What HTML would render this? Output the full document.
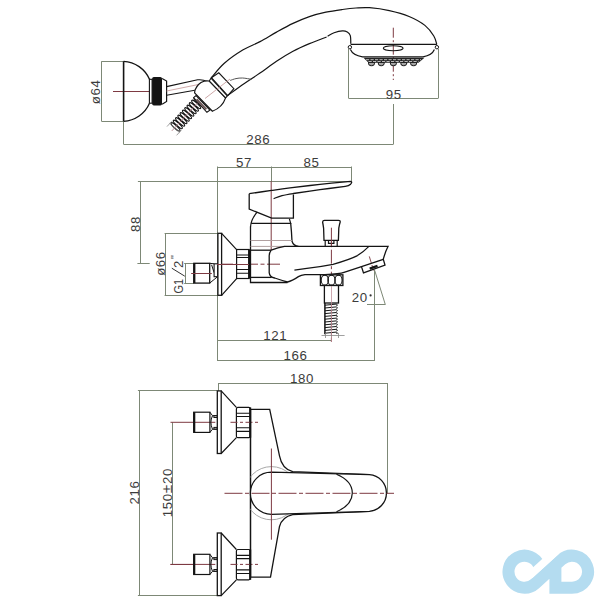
<!DOCTYPE html>
<html><head><meta charset="utf-8"><style>
html,body{margin:0;padding:0;background:#fff;}
svg{display:block;}
text{font-family:"Liberation Sans",sans-serif;fill:#3c3c3c;letter-spacing:0.6px;}
</style></head><body>
<svg width="607" height="607" viewBox="0 0 607 607">
<rect width="607" height="607" fill="#fff"/>
<line x1="101.5" y1="61.5" x2="123.6" y2="61.5" stroke="#7d8876" stroke-width="1" />
<line x1="101.5" y1="121.5" x2="123.6" y2="121.5" stroke="#7d8876" stroke-width="1" />
<line x1="101.5" y1="61.3" x2="101.5" y2="121.3" stroke="#7d8876" stroke-width="1" />
<text transform="translate(100.4,91.8) rotate(-90)" text-anchor="middle" font-size="13.3" >ø64</text>
<line x1="123.5" y1="121.3" x2="123.5" y2="144.4" stroke="#7d8876" stroke-width="1" />
<line x1="123.6" y1="144.5" x2="393.3" y2="144.5" stroke="#7d8876" stroke-width="1" />
<line x1="393.5" y1="104" x2="393.5" y2="144.4" stroke="#7d8876" stroke-width="1" />
<text x="258.2" y="143.9" text-anchor="middle" font-size="13.3" >286</text>
<line x1="348.5" y1="49" x2="348.5" y2="98.3" stroke="#7d8876" stroke-width="1" />
<line x1="438.5" y1="49" x2="438.5" y2="98.3" stroke="#7d8876" stroke-width="1" />
<line x1="348.6" y1="98.5" x2="438.3" y2="98.5" stroke="#7d8876" stroke-width="1" />
<text x="393.7" y="98.5" text-anchor="middle" font-size="13.3" >95</text>
<line x1="113" y1="91.5" x2="150" y2="91.5" stroke="#7e3a42" stroke-width="1" />
<line x1="393.3" y1="27.7" x2="393.3" y2="80" stroke="#7e3a42" stroke-width="1" stroke-dasharray="10,2.5,2,2.5"/>
<path d="M123.6,61.3 V121.3" stroke="#141414" stroke-width="1.6" fill="none" />
<path d="M123.6,61.3 A30,30 0 0 1 149.5,79.3 M149.5,103.2 A30,30 0 0 1 123.6,121.3" stroke="#141414" stroke-width="1.3" fill="none" />
<rect x="149.4" y="79.3" width="2.7" height="23.9" fill="#fff" stroke="#141414" stroke-width="1.1"/>
<rect x="152.1" y="76.9" width="10" height="28.7" rx="1.8" fill="#141414"/>
<path d="M162.1,78.6 L166.6,81.1 V101.5 L162.1,104.2" stroke="#141414" stroke-width="1.2" fill="#fff" />
<path d="M166.6,86.6 L197.6,79.8 Q203,79.2 207,81.5" stroke="#141414" stroke-width="1.1" fill="none" />
<path d="M166.6,95.2 L194.8,90.3" stroke="#141414" stroke-width="1.1" fill="none" />
<line x1="166.6" y1="91" x2="200" y2="84.2" stroke="#c9a0a0" stroke-width="0.9" />
<ellipse cx="198.48" cy="101.9" rx="6.0" ry="1.45" transform="rotate(-137.41 198.48 101.9)" fill="#fff" stroke="#141414" stroke-width="1.15"/>
<ellipse cx="196.19" cy="104.4" rx="6.0" ry="1.45" transform="rotate(-137.41 196.19 104.4)" fill="#fff" stroke="#141414" stroke-width="1.15"/>
<ellipse cx="193.89" cy="106.9" rx="6.0" ry="1.45" transform="rotate(-137.41 193.89 106.9)" fill="#fff" stroke="#141414" stroke-width="1.15"/>
<ellipse cx="191.59" cy="109.4" rx="6.0" ry="1.45" transform="rotate(-137.41 191.59 109.4)" fill="#fff" stroke="#141414" stroke-width="1.15"/>
<ellipse cx="189.3" cy="111.9" rx="6.0" ry="1.45" transform="rotate(-137.41 189.3 111.9)" fill="#fff" stroke="#141414" stroke-width="1.15"/>
<ellipse cx="187" cy="114.4" rx="6.0" ry="1.45" transform="rotate(-137.41 187 114.4)" fill="#fff" stroke="#141414" stroke-width="1.15"/>
<ellipse cx="184.7" cy="116.9" rx="6.0" ry="1.45" transform="rotate(-137.41 184.7 116.9)" fill="#fff" stroke="#141414" stroke-width="1.15"/>
<ellipse cx="182.41" cy="119.4" rx="6.0" ry="1.45" transform="rotate(-137.41 182.41 119.4)" fill="#fff" stroke="#141414" stroke-width="1.15"/>
<ellipse cx="180.11" cy="121.9" rx="6.0" ry="1.45" transform="rotate(-137.41 180.11 121.9)" fill="#fff" stroke="#141414" stroke-width="1.15"/>
<ellipse cx="177.81" cy="124.4" rx="6.0" ry="1.45" transform="rotate(-137.41 177.81 124.4)" fill="#fff" stroke="#141414" stroke-width="1.15"/>
<ellipse cx="175.52" cy="126.9" rx="6.0" ry="1.45" transform="rotate(-137.41 175.52 126.9)" fill="#fff" stroke="#141414" stroke-width="1.15"/>
<line x1="199.5" y1="100.8" x2="171.79" y2="130.95" stroke="#b07a80" stroke-width="0.8" />
<line x1="181.32" y1="130.19" x2="176.58" y2="135.34" stroke="#888" stroke-width="0.8" />
<line x1="171.74" y1="121.39" x2="167.01" y2="126.55" stroke="#888" stroke-width="0.8" />
<line x1="180.02" y1="133.08" x2="168.98" y2="122.92" stroke="#999" stroke-width="0.7" />
<path d="M193.6,97.6 L196.1,95.6 L209.9,110.1 L206.9,112.3 Z" stroke="#141414" stroke-width="1.1" fill="#fff" />
<path d="M196.6,99.3 L206.3,109.4" stroke="#6a5555" stroke-width="2.0" fill="none" />
<path d="M209.3,81 C208.42,81.05 205.8,80.72 204,81.3 C202.2,81.88 199.95,83.13 198.5,84.5 C197.05,85.87 195.95,88.12 195.3,89.5 C194.65,90.88 194.72,92.25 194.6,92.8 L212.4,111.2  C218.5,109 223.5,104 225.6,97.9 Z" stroke="#141414" stroke-width="1.2" fill="#fff" />
<path d="M209.2,81.0 L211.4,77.7 L227.7,95.5 L225.6,97.9 Z" stroke="#141414" stroke-width="1.1" fill="#fff" />
<path d="M211.4,77.7 L227.7,95.5" stroke="#141414" stroke-width="2.2" fill="none" />
<path d="M211.4,77.7 L218.8,72.8 L233.9,88.7 L227.7,95.5 Z" stroke="#141414" stroke-width="1.1" fill="#fff" />
<line x1="205" y1="98.5" x2="230" y2="79" stroke="#c09090" stroke-width="0.8" />
<path d="M211.4,77.7 C213.55,75.3 219.08,67.9 224.3,63.3 C229.52,58.7 236.75,53.72 242.7,50.1 C248.65,46.48 254.37,44.6 260,41.6 C265.63,38.6 271,35.13 276.5,32.1 C282,29.07 287.52,25.98 293,23.4 C298.48,20.82 303.92,18.47 309.4,16.6 C314.88,14.73 320.4,13.38 325.9,12.2 C331.4,11.02 337.38,10.2 342.4,9.5 C347.42,8.8 351.48,8.3 356,8 C360.52,7.7 363.95,7.27 369.5,7.7 C375.05,8.13 382.7,9.13 389.3,10.6 C395.9,12.07 403.17,14.03 409.1,16.5 C415.03,18.97 420.78,22.15 424.9,25.4 C429.02,28.65 431.82,32.82 433.8,36 C435.78,39.18 436.3,43.08 436.8,44.5" stroke="#141414" stroke-width="1.2" fill="none" />
<path d="M227.7,95.5 C230.42,93.55 238.62,87.53 244,83.8 C249.38,80.07 254.58,76.87 260,73.1 C265.42,69.33 271,64.85 276.5,61.2 C282,57.55 287.52,54.13 293,51.2 C298.48,48.27 303.8,45.97 309.4,43.6 C315,41.23 323.73,38.1 326.6,37" stroke="#141414" stroke-width="1.2" fill="none" />
<path d="M327.6,36.2 C328.68,35.63 331.63,33.68 334.1,32.8 C336.57,31.92 340.2,31.03 342.4,30.9 C344.6,30.77 345.98,31.22 347.3,32 C348.62,32.78 349.72,33.63 350.3,35.6 C350.88,37.57 350.72,42.43 350.8,43.8" stroke="#141414" stroke-width="1.2" fill="none" />
<path d="M230.2,80.4 C231.17,80.1 233.93,79 236,78.6 C238.07,78.2 240.02,77.88 242.6,78 C245.18,78.12 250.02,79.08 251.5,79.3" stroke="#555" stroke-width="1.0" fill="none" />
<path d="M350.6,44.4 H436.8" stroke="#141414" stroke-width="1.3" fill="none" />
<path d="M350.4,49.6 Q353,55.5 362.5,56.8 H423 Q432,55.5 434.4,49.6" stroke="#141414" stroke-width="1.2" fill="none" />
<circle cx="349.9" cy="47.2" r="1.7" fill="#fff" stroke="#141414" stroke-width="1"/>
<circle cx="436.9" cy="47.2" r="1.7" fill="#fff" stroke="#141414" stroke-width="1"/>
<ellipse cx="393.2" cy="48.2" rx="9.9" ry="2.5" fill="none" stroke="#141414" stroke-width="1.1"/>
<path d="M363.5,57.8 H424.5 L418.5,62.8 H368.5 Z" fill="#222"/>
<path d="M366,59.7 H421 M368.5,61.5 H418.5" stroke="#fff" stroke-width="0.7" stroke-dasharray="3.2,1.3"/>
<path d="M368.5,62.6 A3,3.2 0 0 0 374.5,62.6 Z" fill="#fff" stroke="#222" stroke-width="1.1"/>
<line x1="369.9" y1="64.2" x2="373.1" y2="64.2" stroke="#222" stroke-width="0.6"/>
<path d="M378.3,62.6 A3,3.2 0 0 0 384.3,62.6 Z" fill="#fff" stroke="#222" stroke-width="1.1"/>
<line x1="379.7" y1="64.2" x2="382.90000000000003" y2="64.2" stroke="#222" stroke-width="0.6"/>
<path d="M390.4,62.6 A3,3.2 0 0 0 396.4,62.6 Z" fill="#fff" stroke="#222" stroke-width="1.1"/>
<line x1="391.79999999999995" y1="64.2" x2="395.0" y2="64.2" stroke="#222" stroke-width="0.6"/>
<path d="M400.8,62.6 A3,3.2 0 0 0 406.8,62.6 Z" fill="#fff" stroke="#222" stroke-width="1.1"/>
<line x1="402.2" y1="64.2" x2="405.40000000000003" y2="64.2" stroke="#222" stroke-width="0.6"/>
<path d="M410.6,62.6 A3,3.2 0 0 0 416.6,62.6 Z" fill="#fff" stroke="#222" stroke-width="1.1"/>
<line x1="412.0" y1="64.2" x2="415.20000000000005" y2="64.2" stroke="#222" stroke-width="0.6"/>
<line x1="217.5" y1="166.5" x2="217.5" y2="361" stroke="#7d8876" stroke-width="1" />
<line x1="217.6" y1="167.5" x2="351.1" y2="167.5" stroke="#7d8876" stroke-width="1" />
<line x1="271.5" y1="166.5" x2="271.5" y2="181.2" stroke="#7d8876" stroke-width="1" />
<line x1="351.5" y1="166.5" x2="351.5" y2="181.2" stroke="#7d8876" stroke-width="1" />
<text x="243.9" y="167.1" text-anchor="middle" font-size="13.3" >57</text>
<text x="311.4" y="167.1" text-anchor="middle" font-size="13.3" >85</text>
<line x1="137.9" y1="181.5" x2="351.1" y2="181.5" stroke="#7d8876" stroke-width="1" />
<line x1="140.5" y1="181.2" x2="140.5" y2="263.6" stroke="#7d8876" stroke-width="1" />
<line x1="137.4" y1="263.5" x2="149.7" y2="263.5" stroke="#7d8876" stroke-width="1" />
<text transform="translate(139.9,223.9) rotate(-90)" text-anchor="middle" font-size="13.3" >88</text>
<line x1="164.6" y1="233.5" x2="218" y2="233.5" stroke="#7d8876" stroke-width="1" />
<line x1="164.6" y1="295.5" x2="218" y2="295.5" stroke="#7d8876" stroke-width="1" />
<line x1="165.5" y1="233.4" x2="165.5" y2="295.4" stroke="#7d8876" stroke-width="1" />
<text transform="translate(165.3,263.5) rotate(-90)" text-anchor="middle" font-size="13.3" >ø66</text>
<line x1="184.2" y1="263.5" x2="193.8" y2="263.5" stroke="#7d8876" stroke-width="1" />
<line x1="184.2" y1="283.5" x2="193.8" y2="283.5" stroke="#7d8876" stroke-width="1" />
<line x1="185.5" y1="263.4" x2="185.5" y2="283.2" stroke="#7d8876" stroke-width="1" />
<text transform="translate(183.4,293.4) rotate(-90)" text-anchor="start" font-size="13.3" style="letter-spacing:0" textLength="14.6" lengthAdjust="spacingAndGlyphs">G1</text>
<line x1="184.8" y1="276.2" x2="171.8" y2="268.2" stroke="#333" stroke-width="1.0" />
<text transform="translate(182.6,268) rotate(-90)" text-anchor="start" font-size="13.3" >2</text>
<text transform="translate(178.6,258.9) rotate(-90)" text-anchor="start" font-size="11" >"</text>
<line x1="218" y1="340.5" x2="331.6" y2="340.5" stroke="#7d8876" stroke-width="1" />
<line x1="331.5" y1="334" x2="331.5" y2="341.5" stroke="#7d8876" stroke-width="1" />
<text x="275.3" y="340" text-anchor="middle" font-size="13.3" >121</text>
<line x1="218" y1="360.5" x2="374.4" y2="360.5" stroke="#7d8876" stroke-width="1" />
<line x1="374.5" y1="269.6" x2="374.5" y2="361" stroke="#7d8876" stroke-width="1" />
<text x="295.5" y="359.9" text-anchor="middle" font-size="13.3" >166</text>
<line x1="374.7" y1="270.4" x2="385.2" y2="304.2" stroke="#7d8876" stroke-width="1" />
<line x1="367" y1="304.5" x2="385.6" y2="304.5" stroke="#7d8876" stroke-width="1" />
<text x="351.8" y="302.2" text-anchor="start" font-size="13.3" >20</text>
<circle cx="370.6" cy="295.4" r="1.1" fill="#333"/>
<line x1="271.2" y1="181.2" x2="271.2" y2="250.2" stroke="#7e3a42" stroke-width="1"/>
<line x1="217" y1="264.2" x2="280" y2="264.2" stroke="#7e3a42" stroke-width="1" stroke-dasharray="16,2.5,4,2.5"/>
<line x1="191.4" y1="273.5" x2="211.6" y2="273.5" stroke="#7e3a42" stroke-width="1" />
<line x1="331.4" y1="227.7" x2="331.4" y2="342" stroke="#7e3a42" stroke-width="1" stroke-dasharray="14,2.5,3,2.5"/>
<line x1="369.3" y1="256.4" x2="373.6" y2="270.5" stroke="#7e3a42" stroke-width="0.9" stroke-dasharray="7,2,2,2"/>
<path d="M209.7,263.3 L214.1,263.8 M209.7,283.1 L214.1,279.5 L217.6,276.7 M211.6,264.8 L214.1,272.7" stroke="#141414" stroke-width="1.0" fill="none" />
<rect x="214.1" y="263.8" width="3.5" height="12.9" fill="#fff" stroke="#141414" stroke-width="1.1"/>
<rect x="193.8" y="263.3" width="15.9" height="19.8" fill="none" stroke="#141414" stroke-width="1.3"/>
<path d="M194.4,263.3 V283.1" stroke="#141414" stroke-width="2.0" fill="none" />
<line x1="191.4" y1="273.5" x2="211.6" y2="273.5" stroke="#7e3a42" stroke-width="1" />
<rect x="217.9" y="233.3" width="3.7" height="62" fill="#fff" stroke="#141414" stroke-width="1.3"/>
<path d="M221.6,233.3 L236.6,249.6 M221.6,295.3 L236.6,278.6" stroke="#141414" stroke-width="1.2" fill="none" />
<rect x="236.6" y="249.5" width="12.5" height="29" fill="#fff" stroke="#141414" stroke-width="1.2"/>
<path d="M236.6,255 H249 M236.6,257.5 H249 M236.6,269.5 H249 M236.6,273.3 H249" stroke="#141414" stroke-width="1.1" fill="none" />
<path d="M249.1,249.5 V278.5" stroke="#141414" stroke-width="2.0" fill="none" />
<line x1="217" y1="264.5" x2="249" y2="264.5" stroke="#7e3a42" stroke-width="1" />
<path d="M249.2,193.7 C252.93,193.15 264.8,191.37 271.6,190.4 C278.4,189.43 281.93,188.9 290,187.9 C298.07,186.9 309.9,185.5 320,184.4 C330.1,183.3 345.5,181.82 350.6,181.3 Q352.8,181.6 350.6,184.2 Q348.8,186 345.3,186.4  C341.08,186.95 328.65,188.52 320,189.7 C311.35,190.88 299.73,192.52 293.4,193.5 C287.07,194.48 285.3,194.75 282,195.6 C278.7,196.45 275,198.1 273.6,198.6" stroke="#141414" stroke-width="1.3" fill="none" />
<path d="M249.2,193.7 V209.1 L271.6,218.1 H293.4 V194.4" stroke="#141414" stroke-width="1.3" fill="none" />
<path d="M257.1,212.2 Q251,219.5 250.5,227" stroke="#141414" stroke-width="1.2" fill="none" />
<path d="M251.2,223.4 H290.7 L289.4,218.8" stroke="#141414" stroke-width="1.2" fill="none" />
<path d="M250.5,226.5 V282.5 H287.5" stroke="#141414" stroke-width="1.3" fill="none" />
<path d="M290.7,223.4 Q291.6,232 292,241.2 Q293.5,246 298.5,246.3 H388.1 Q385.4,251.5 383.3,259.2" stroke="#141414" stroke-width="1.3" fill="none" />
<path d="M250.5,240.5 H292 M250.5,246.4 H284.5" stroke="#b0a0a0" stroke-width="1.0" fill="none" />
<path d="M250.5,250.2 H271.2" stroke="#141414" stroke-width="1.3" fill="none" />
<path d="M250.5,277.4 H271.7" stroke="#141414" stroke-width="1.3" fill="none" />
<path d="M271.2,250.2 Q269,253 269.2,257 V272.6 Q269.6,277 274.7,278 Q282,280.5 287.5,282 Q292,281 298.4,276.6 Q301,275 305,274.6 H325 Q340,273.8 344,272.4 L361.5,266.7" stroke="#141414" stroke-width="1.3" fill="none" />
<path d="M271.2,250.2 Q278,247.5 284.5,246.4 H298.5" stroke="#141414" stroke-width="1.3" fill="none" />
<path d="M294.4,270.1 L305,268.7 Q320,266.8 333,264.3 Q350,259.5 357.4,255.6 Q364,251.5 368.9,246.4" stroke="#141414" stroke-width="1.2" fill="none" />
<path d="M361.5,266.7 L383.3,259.3 L385,265.1 L363.5,272.9 Z" stroke="#141414" stroke-width="1.3" fill="none" />
<path d="M369.7,268.6 L377.5,265.9" stroke="#141414" stroke-width="2.2" fill="none" />
<path d="M325.2,246.2 V240.3 H337.2 V246.2 M328.5,240.3 V243.4 H333.9 V240.3" stroke="#141414" stroke-width="1.2" fill="none" />
<path d="M324,240.3 L323.6,228.1 Q323,224 322.6,222 Q322.8,220.3 324.5,220.3 H338.5 Q340.4,220.3 340.2,222 Q339.5,224 338.8,228.1 L338.4,240.3 Z" stroke="#141414" stroke-width="1.3" fill="#fff" />
<line x1="331.4" y1="227.7" x2="331.4" y2="246" stroke="#7e3a42" stroke-width="1"/>
<rect x="320.4" y="274.8" width="22.5" height="10.7" fill="#fff" stroke="#141414" stroke-width="1.3"/>
<ellipse cx="324.8" cy="280.15" rx="3.6" ry="5" fill="none" stroke="#141414" stroke-width="1.1"/>
<ellipse cx="331.5" cy="280.15" rx="3.6" ry="5" fill="none" stroke="#141414" stroke-width="1.1"/>
<ellipse cx="338.5" cy="280.15" rx="3.6" ry="5" fill="none" stroke="#141414" stroke-width="1.1"/>
<rect x="324.4" y="285.5" width="14.1" height="17.5" fill="#fff" stroke="#141414" stroke-width="1.3"/>
<path d="M325,305.2 L336.2,304.1 Q338.4,304.6 336.6,306" fill="none" stroke="#141414" stroke-width="1.0"/>
<path d="M325,308 L336.2,306.9 Q338.4,307.4 336.6,308.8" fill="none" stroke="#141414" stroke-width="1.0"/>
<path d="M325,310.8 L336.2,309.7 Q338.4,310.2 336.6,311.6" fill="none" stroke="#141414" stroke-width="1.0"/>
<path d="M325,313.6 L336.2,312.5 Q338.4,313 336.6,314.4" fill="none" stroke="#141414" stroke-width="1.0"/>
<path d="M325,316.4 L336.2,315.3 Q338.4,315.8 336.6,317.2" fill="none" stroke="#141414" stroke-width="1.0"/>
<path d="M325,319.2 L336.2,318.1 Q338.4,318.6 336.6,320" fill="none" stroke="#141414" stroke-width="1.0"/>
<path d="M325,322 L336.2,320.9 Q338.4,321.4 336.6,322.8" fill="none" stroke="#141414" stroke-width="1.0"/>
<path d="M325,324.8 L336.2,323.7 Q338.4,324.2 336.6,325.6" fill="none" stroke="#141414" stroke-width="1.0"/>
<path d="M325,327.6 L336.2,326.5 Q338.4,327 336.6,328.4" fill="none" stroke="#141414" stroke-width="1.0"/>
<path d="M325,330.4 L336.2,329.3 Q338.4,329.8 336.6,331.2" fill="none" stroke="#141414" stroke-width="1.0"/>
<path d="M325,333.2 L336.2,332.1 Q338.4,332.6 336.6,334" fill="none" stroke="#141414" stroke-width="1.0"/>
<path d="M324.9,303 V334.2" stroke="#141414" stroke-width="1.5" fill="none" />
<line x1="331.5" y1="286" x2="331.5" y2="342" stroke="#c0909a" stroke-width="0.8"/>
<line x1="321.5" y1="335.5" x2="344.6" y2="335.5" stroke="#888" stroke-width="0.8" />
<line x1="325.5" y1="333" x2="325.5" y2="338" stroke="#888" stroke-width="0.8" />
<line x1="338.5" y1="333" x2="338.5" y2="338" stroke="#888" stroke-width="0.8" />
<line x1="218.5" y1="383" x2="218.5" y2="391" stroke="#7d8876" stroke-width="1" />
<line x1="218" y1="383.5" x2="387.6" y2="383.5" stroke="#7d8876" stroke-width="1" />
<line x1="387.5" y1="383" x2="387.5" y2="493.5" stroke="#7d8876" stroke-width="1" />
<text x="302" y="382.9" text-anchor="middle" font-size="13.3" >180</text>
<line x1="137.9" y1="390.5" x2="217.3" y2="390.5" stroke="#7d8876" stroke-width="1" />
<line x1="137.9" y1="595.5" x2="217.3" y2="595.5" stroke="#7d8876" stroke-width="1" />
<line x1="139.5" y1="390.9" x2="139.5" y2="595.8" stroke="#7d8876" stroke-width="1" />
<text transform="translate(138.9,492.5) rotate(-90)" text-anchor="middle" font-size="13.3" >216</text>
<line x1="172.5" y1="422.3" x2="172.5" y2="564.4" stroke="#7d8876" stroke-width="1" />
<line x1="170.5" y1="564.5" x2="193.6" y2="564.5" stroke="#7e3a42" stroke-width="1" />
<text transform="translate(171.8,492.6) rotate(-90)" text-anchor="middle" font-size="13.3" >150<tspan font-size="15.5">±</tspan>20</text>
<line x1="170.5" y1="422.3" x2="215.3" y2="422.3" stroke="#7e3a42" stroke-width="1"/>
<rect x="193.7" y="412.2" width="16.2" height="20.2" fill="none" stroke="#141414" stroke-width="1.2"/>
<path d="M194.3,412.2 V432.4" stroke="#141414" stroke-width="2.0" fill="none" />
<path d="M209.9,412.2 L212.5,415.7 H217.3 M209.9,432.4 L212.5,429.2 H217.3 M212.5,415.7 Q209.3,422.3 212.5,429.2" stroke="#141414" stroke-width="1.0" fill="none" />
<rect x="213.9" y="415.7" width="3.4" height="1.8" fill="none" stroke="#141414" stroke-width="1"/>
<rect x="213.9" y="427.4" width="3.4" height="1.8" fill="none" stroke="#141414" stroke-width="1"/>
<rect x="217.3" y="390.9" width="3.9" height="62.6" fill="#fff" stroke="#141414" stroke-width="1.3"/>
<path d="M221.2,390.9 L236.4,407.4 M221.2,453.5 L236.4,437.7" stroke="#141414" stroke-width="1.2" fill="none" />
<rect x="236.4" y="407.4" width="13.8" height="30.3" rx="1.5" fill="#fff" stroke="#141414" stroke-width="1.2"/>
<path d="M236.8,413.3 H250 M236.8,416.5 H250 M236.8,427.8 H250 M236.8,431.4 H250" stroke="#141414" stroke-width="1.1" fill="none" />
<path d="M250.2,407.4 V437.7" stroke="#141414" stroke-width="2.0" fill="none" />
<line x1="230.5" y1="422.3" x2="260.1" y2="422.3" stroke="#7e3a42" stroke-width="1" stroke-dasharray="7,2.5,3,2.5"/>
<line x1="170.5" y1="564.4" x2="215.3" y2="564.4" stroke="#7e3a42" stroke-width="1"/>
<rect x="193.7" y="554.3" width="16.2" height="20.2" fill="none" stroke="#141414" stroke-width="1.2"/>
<path d="M194.3,554.3 V574.5" stroke="#141414" stroke-width="2.0" fill="none" />
<path d="M209.9,554.3 L212.5,557.8 H217.3 M209.9,574.5 L212.5,571.3 H217.3 M212.5,557.8 Q209.3,564.4 212.5,571.3" stroke="#141414" stroke-width="1.0" fill="none" />
<rect x="213.9" y="557.8" width="3.4" height="1.8" fill="none" stroke="#141414" stroke-width="1"/>
<rect x="213.9" y="569.5" width="3.4" height="1.8" fill="none" stroke="#141414" stroke-width="1"/>
<rect x="217.3" y="533" width="3.9" height="62.6" fill="#fff" stroke="#141414" stroke-width="1.3"/>
<path d="M221.2,533 L236.4,549.5 M221.2,595.6 L236.4,579.8" stroke="#141414" stroke-width="1.2" fill="none" />
<rect x="236.4" y="549.5" width="13.8" height="30.3" rx="1.5" fill="#fff" stroke="#141414" stroke-width="1.2"/>
<path d="M236.8,555.4 H250 M236.8,558.6 H250 M236.8,569.9 H250 M236.8,573.5 H250" stroke="#141414" stroke-width="1.1" fill="none" />
<path d="M250.2,549.5 V579.8" stroke="#141414" stroke-width="2.0" fill="none" />
<line x1="230.5" y1="564.4" x2="260.1" y2="564.4" stroke="#7e3a42" stroke-width="1" stroke-dasharray="7,2.5,3,2.5"/>
<path d="M250.5,409.4 H269.7 L279.5,455.9 Q282,469 292.7,471.7 L369.4,474.6" stroke="#141414" stroke-width="1.3" fill="none" />
<path d="M250.5,577.2 H270.5 L279.5,526.5 Q282,517 292.7,514.6 L369.4,511.3" stroke="#141414" stroke-width="1.3" fill="none" />
<path d="M250.5,409.4 V577.2" stroke="#141414" stroke-width="1.5" fill="none" />
<clipPath id="cl"><rect x="250.5" y="440" width="60" height="110"/></clipPath>
<circle cx="271.4" cy="493.2" r="26.6" fill="none" stroke="#a8a8a8" stroke-width="1" clip-path="url(#cl)"/>
<path d="M271.4,472.2 L369.4,474.6 A18.4,18.4 0 0 1 369.4,511.3 L271.4,514.3 A21,21 0 0 1 271.4,472.2" stroke="#141414" stroke-width="1.3" fill="#fff" />
<path d="M336.5,474.2 Q352.5,481 352.3,493.2 Q352,505 336.5,511.7" stroke="#141414" stroke-width="1.2" fill="none" />
<line x1="224.5" y1="493.3" x2="394" y2="493.3" stroke="#7e3a42" stroke-width="1" stroke-dasharray="18,2.5,4,2.5"/>
<line x1="271.4" y1="448.5" x2="271.4" y2="539.7" stroke="#7e3a42" stroke-width="1"/>
<path d="M539.54,566.23 A16.0,16.0 0 1 0 535.28,583.52 L561.22,559.88 A16.0,16.0 0 1 1 572,587.7 L555.4,587.7 L555.4,563.18" fill="none" stroke="#b4dcf0" stroke-width="12.0" stroke-linejoin="miter"/>
<polygon fill="#fff" points="532.38,578.04 558.99,553.79 553.97,548.29 527.36,572.54"/>
</svg>
</body></html>
